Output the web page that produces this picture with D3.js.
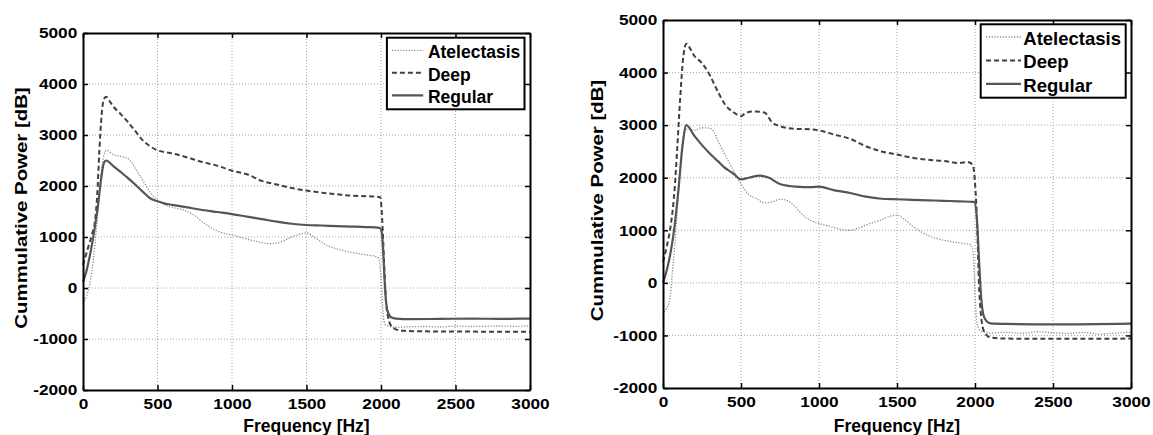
<!DOCTYPE html>
<html><head><meta charset="utf-8">
<script src="https://cdn.jsdelivr.net/npm/d3@7"></script>
<style>
html,body{margin:0;padding:0;background:#fff;}
svg text{font-family:"Liberation Sans",Arial,Helvetica,sans-serif;font-weight:bold;fill:#000;}
</style></head>
<body><svg id="c" width="1153" height="435"></svg>
<script>
// ---------- DATA ----------
const seriesNames = ["Atelectasis", "Deep", "Regular"];
const xTicks = [0, 500, 1000, 1500, 2000, 2500, 3000];
const yTicks = [-2000, -1000, 0, 1000, 2000, 3000, 4000, 5000];
const xLabel = "Frequency [Hz]";
const yLabel = "Cummulative Power [dB]";

// Left panel: [frequency Hz, power dB]
const leftAtelectasis = [[0,-300],[25,-150],[50,150],[75,700],[100,1500],[120,2200],[140,2600],[160,2700],[200,2620],[250,2580],[300,2540],[330,2450],[360,2300],[400,2120],[450,1880],[500,1720],[550,1630],[600,1580],[650,1550],[700,1500],[750,1420],[800,1300],[850,1200],[900,1120],[950,1070],[1000,1040],[1100,960],[1200,890],[1250,870],[1300,880],[1350,930],[1400,1000],[1450,1050],[1500,1080],[1550,1000],[1600,900],[1650,820],[1700,770],[1800,700],[1900,650],[1975,610],[1990,500],[2000,200],[2010,-300],[2020,-650],[2035,-730],[2100,-770],[2200,-760],[2300,-755],[2400,-765],[2500,-745],[2600,-755],[2700,-750],[2800,-745],[2900,-752],[3000,-740]];
const leftDeep = [[0,450],[30,750],[60,1050],[80,1300],[95,1800],[110,2700],[125,3400],[140,3700],[155,3750],[175,3680],[200,3570],[250,3420],[300,3260],[350,3080],[400,2900],[450,2780],[500,2700],[600,2640],[700,2560],[800,2470],[900,2400],[1000,2300],[1100,2230],[1200,2100],[1300,2030],[1400,1960],[1500,1910],[1600,1870],[1700,1840],[1800,1810],[1900,1800],[1995,1780],[2005,1500],[2015,900],[2025,200],[2035,-300],[2050,-600],[2070,-750],[2100,-810],[2150,-840],[2300,-850],[2600,-855],[3000,-860]];
const leftRegular = [[0,120],[20,300],[40,550],[60,850],[80,1200],[100,1600],[120,2100],[140,2450],[155,2500],[200,2400],[250,2280],[300,2160],[350,2030],[400,1890],[450,1760],[500,1700],[550,1655],[600,1630],[700,1580],[800,1530],[900,1490],[1000,1450],[1100,1400],[1200,1350],[1300,1300],[1400,1260],[1500,1235],[1600,1225],[1700,1215],[1800,1205],[1900,1195],[1990,1180],[2005,1100],[2015,700],[2025,100],[2035,-300],[2050,-500],[2070,-580],[2100,-600],[2200,-610],[2400,-605],[2600,-600],[2800,-605],[3000,-600]];

// Right panel
const rightAtelectasis = [[0,-600],[20,-500],[45,-300],[60,200],[75,700],[90,1300],[110,2200],[130,2800],[160,2930],[200,2900],[250,2950],[300,2940],[320,2900],[360,2650],[400,2420],[450,2150],[500,1880],[550,1680],[600,1600],[650,1520],[700,1540],[750,1590],[800,1560],[850,1440],[900,1280],[950,1180],[1000,1130],[1100,1050],[1150,1010],[1200,1000],[1250,1040],[1300,1100],[1400,1200],[1450,1260],[1500,1290],[1550,1200],[1600,1080],[1700,900],[1800,810],[1900,760],[1975,720],[1990,500],[2000,-200],[2010,-700],[2025,-880],[2050,-930],[2100,-955],[2200,-940],[2300,-960],[2400,-930],[2500,-950],[2600,-960],[2700,-945],[2800,-975],[2900,-955],[3000,-940]];
const rightDeep = [[0,400],[25,700],[50,1100],[75,1800],[90,2500],[110,3500],[130,4300],[150,4550],[175,4450],[200,4320],[250,4180],[300,3950],[350,3650],[400,3380],[450,3250],[500,3170],[530,3230],[580,3260],[650,3240],[700,3050],[750,2980],[850,2930],[950,2920],[1000,2900],[1100,2820],[1200,2740],[1300,2600],[1400,2500],[1500,2440],[1600,2380],[1700,2340],[1800,2320],[1900,2280],[1950,2300],[1985,2250],[2000,1900],[2015,1000],[2025,0],[2035,-500],[2050,-850],[2070,-980],[2100,-1040],[2200,-1060],[2500,-1065],[3000,-1060]];
const rightRegular = [[0,0],[25,250],[50,600],[75,1100],[100,1800],[125,2600],[150,3000],[200,2800],[250,2620],[300,2460],[350,2320],[400,2180],[420,2140],[450,2080],[500,1970],[550,2000],[620,2040],[680,2000],[750,1880],[850,1830],[950,1820],[1000,1830],[1100,1760],[1200,1710],[1300,1640],[1400,1600],[1500,1590],[1600,1580],[1700,1570],[1800,1560],[1900,1550],[1995,1540],[2010,1300],[2020,800],[2030,200],[2040,-300],[2055,-620],[2075,-730],[2100,-770],[2200,-780],[2500,-790],[3000,-775]];

// ---------- STYLE / LAYOUT ----------
const styles = {
  Atelectasis: {color:"#8a8a8a", width:1.3, dash:"1.2,1.6"},
  Deep: {color:"#404040", width:2, dash:"5,3"},
  Regular: {color:"#555555", width:2.2, dash:null}
};
const panels = [
  {left:83, right:530, top:33, bottom:390, ylabX:27,
   data:{Atelectasis:leftAtelectasis, Deep:leftDeep, Regular:leftRegular},
   leg:{w:137.6, h:71.6, mr:5.5, mt:4.7, row0:20.6, step:22.5, l0:5, l1:36.3, tx:41, fs:17.5}},
  {left:663, right:1131, top:20, bottom:388, ylabX:603,
   data:{Atelectasis:rightAtelectasis, Deep:rightDeep, Regular:rightRegular},
   leg:{w:145, h:73.4, mr:5.3, mt:4.3, row0:20.7, step:23.4, l0:5.3, l1:40.3, tx:42.6, fs:18.5}}
];
const fmt = d => String(d);

const svg = d3.select("#c");

panels.forEach(p => {
  const x = d3.scaleLinear().domain([0,3000]).range([p.left, p.right]);
  const y = d3.scaleLinear().domain([-2000,5000]).range([p.bottom, p.top]);
  const g = svg.append("g");

  // grid
  g.append("g").selectAll("line").data(xTicks.slice(1,-1)).join("line")
    .attr("x1", d=>x(d)).attr("x2", d=>x(d)).attr("y1", p.top).attr("y2", p.bottom)
    .attr("stroke","#9a9a9a").attr("stroke-width",0.9).attr("stroke-dasharray","1,2");
  g.append("g").selectAll("line").data(yTicks.slice(1,-1)).join("line")
    .attr("y1", d=>y(d)).attr("y2", d=>y(d)).attr("x1", p.left).attr("x2", p.right)
    .attr("stroke","#9a9a9a").attr("stroke-width",0.9).attr("stroke-dasharray","1,2");

  // lines
  const line = d3.line().x(d=>x(d[0])).y(d=>y(d[1])).curve(d3.curveMonotoneX);
  seriesNames.forEach(n => {
    const s = styles[n];
    g.append("path").datum(p.data[n]).attr("d", line)
      .attr("fill","none").attr("stroke", s.color).attr("stroke-width", s.width)
      .attr("stroke-dasharray", s.dash).attr("stroke-linejoin","round");
  });

  // axes (inward ticks, box)
  const axStyle = sel => {
    sel.selectAll("path").attr("stroke","#000").attr("stroke-width",2);
    sel.selectAll("line").attr("stroke","#000").attr("stroke-width",1.5);
  };
  const bx = g.append("g").attr("transform",`translate(0,${p.bottom})`)
    .call(d3.axisBottom(x).tickValues(xTicks).tickFormat(fmt).tickSize(-5).tickSizeOuter(0).tickPadding(8.5));
  bx.call(axStyle);
  bx.selectAll("text").attr("font-size",15).attr("transform","scale(1.15,1)");
  const ly = g.append("g").attr("transform",`translate(${p.left},0)`)
    .call(d3.axisLeft(y).tickValues(yTicks).tickFormat(fmt).tickSize(-5).tickSizeOuter(0).tickPadding(5));
  ly.call(axStyle);
  ly.selectAll("text").attr("font-size",15).attr("transform","scale(1.15,1)");
  const tx = g.append("g").attr("transform",`translate(0,${p.top})`)
    .call(d3.axisTop(x).tickValues(xTicks).tickSize(-5).tickSizeOuter(0).tickFormat(""));
  tx.call(axStyle);
  const ry = g.append("g").attr("transform",`translate(${p.right},0)`)
    .call(d3.axisRight(y).tickValues(yTicks).tickSize(-5).tickSizeOuter(0).tickFormat(""));
  ry.call(axStyle);
  g.selectAll(".domain").attr("stroke","#000").attr("stroke-width",2);

  // axis titles
  g.append("text").attr("x",(p.left+p.right)/2).attr("y",432)
    .attr("text-anchor","middle").attr("font-size",17.5).text(xLabel);
  g.append("text").attr("transform",`translate(${p.ylabX},${(p.top+p.bottom)/2-3.5}) rotate(-90) scale(1.2,1)`)
    .attr("text-anchor","middle").attr("font-size",17).text(yLabel);

  // legend
  const L = p.leg;
  const lg = g.append("g").attr("transform",`translate(${p.right-L.mr-L.w},${p.top+L.mt})`);
  lg.append("rect").attr("width",L.w).attr("height",L.h).attr("fill","#fff")
    .attr("stroke","#000").attr("stroke-width",2);
  seriesNames.forEach((n,i) => {
    const s = styles[n];
    const by = L.row0 + i*L.step;
    lg.append("line").attr("x1",L.l0).attr("x2",L.l1).attr("y1",by-8).attr("y2",by-8)
      .attr("stroke",s.color).attr("stroke-width",s.width).attr("stroke-dasharray",s.dash);
    lg.append("text").attr("x",L.tx).attr("y",by).attr("font-size",L.fs).text(n);
  });
});
</script></body></html>
